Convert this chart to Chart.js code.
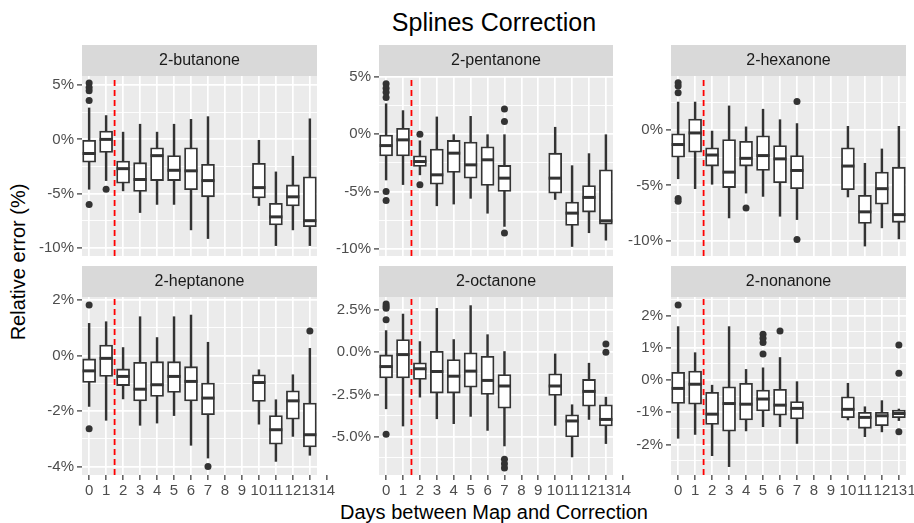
<!DOCTYPE html>
<html>
<head>
<meta charset="utf-8">
<script src="https://cdn.jsdelivr.net/npm/chart.js@4.4.0/dist/chart.umd.min.js"></script>
<style>
  body { margin: 0; width: 914px; height: 523px; background: #fff; position: relative; overflow: hidden;
         font-family: "Liberation Sans", Arial, sans-serif; }
  canvas { position: absolute; }
  .txt { position: absolute; white-space: nowrap; color: #000; }
  #title { left: 494px; top: 10px; font-size: 25px; line-height: 25px; transform: translateX(-50%); }
  #xtitle { left: 494px; top: 502px; font-size: 20px; line-height: 20px; transform: translateX(-50%); }
  #ytitle { left: 18px; top: 262px; font-size: 20px; line-height: 20px; transform: translate(-50%, -50%) rotate(-90deg); }
</style>
</head>
<body>
<div class="txt" id="title">Splines Correction</div>
<div class="txt" id="xtitle">Days between Map and Correction</div>
<div class="txt" id="ytitle">Relative error (%)</div>
<script>
// dias com medições (8 e 9 sem dados)
const days = [0, 1, 2, 3, 4, 5, 6, 7, 10, 11, 12, 13];
const dayTicks = [0, 1, 2, 3, 4, 5, 6, 7, 8, 9, 10, 11, 12, 13, 14];
const cutDay = 1.5;

// 2-butanone
const butanoneLow = [-4.6, -3.8, -4.75, -6.75, -6.0, -6.0, -8.35, -9.15, -6.1, -9.8, -8.35, -9.8];
const butanoneQ1  = [-2.1, -1.2, -4.05, -4.8, -3.8, -3.8, -4.65, -5.3, -5.4, -7.9, -6.15, -8.05];
const butanoneMed = [-1.3, 0.0, -2.7, -3.7, -1.5, -2.85, -2.9, -3.8, -4.45, -7.15, -5.3, -7.5];
const butanoneQ3  = [0.0, 0.77, -2.0, -2.15, -0.77, -1.5, -0.77, -2.3, -2.2, -5.9, -4.2, -3.45];
const butanoneHigh = [2.9, 2.2, 0.67, 1.4, 0.67, 1.4, 1.85, 2.1, 0.0, -3.0, -1.55, 1.9];
const butanoneOut = [[0, 5.2], [0, 4.8], [0, 4.5], [0, 3.6], [0, -6.0], [1, -4.6]];

// 2-pentanone
const pentanoneLow = [-4.0, -4.4, -3.55, -6.25, -6.1, -5.6, -6.9, -8.05, -5.7, -9.8, -8.6, -9.25];
const pentanoneQ1  = [-1.9, -1.9, -2.82, -4.36, -3.34, -3.84, -4.48, -5.0, -5.15, -7.97, -6.8, -7.85];
const pentanoneMed = [-1.0, -0.5, -2.39, -3.55, -1.66, -2.68, -2.24, -3.84, -3.84, -6.89, -5.52, -7.56];
const pentanoneQ3  = [0.0, 0.5, -1.89, -1.31, -0.55, -0.7, -1.1, -2.73, -1.66, -5.93, -4.48, -3.11];
const pentanoneHigh = [2.65, 2.05, -0.58, 1.5, -0.05, 1.55, -0.05, -0.05, 0.6, -2.75, -1.7, -0.05];
const pentanoneOut = [[0, 4.4], [0, 4.0], [0, 3.65], [0, 3.2], [0, -5.0], [0, -5.8],
                      [2, 0.0], [2, -4.42], [7, 2.2], [7, 1.1], [7, -8.63]];

// 2-hexanone
const hexanoneLow = [-4.4, -5.3, -4.9, -7.95, -5.7, -6.0, -7.8, -8.1, -6.05, -10.5, -8.85, -9.85];
const hexanoneQ1  = [-2.45, -2.0, -3.25, -5.2, -3.25, -3.65, -4.75, -5.3, -5.4, -8.45, -6.7, -8.35];
const hexanoneMed = [-1.3, -0.25, -2.25, -3.8, -2.55, -2.3, -2.6, -3.65, -3.25, -7.4, -5.3, -7.65];
const hexanoneQ3  = [-0.33, 1.0, -1.6, -0.85, -1.0, -0.5, -1.4, -2.3, -1.6, -5.9, -3.8, -3.35];
const hexanoneHigh = [2.55, 2.55, 0.0, 2.2, 0.3, 1.9, 0.95, 0.6, 0.35, -3.0, -1.7, 0.35];
const hexanoneOut = [[0, 4.3], [0, 4.0], [0, 3.4], [0, -6.2], [0, -6.45], [4, -7.05], [7, 2.6], [7, -9.9]];

// 2-heptanone
const heptanoneLow = [-1.83, -2.33, -1.56, -2.51, -2.43, -2.16, -3.23, -3.69, -2.47, -3.81, -2.91, -3.59];
const heptanoneQ1  = [-0.97, -0.75, -1.08, -1.63, -1.47, -1.33, -1.63, -2.13, -1.65, -3.19, -2.29, -3.29];
const heptanoneMed = [-0.55, -0.1, -0.75, -1.21, -1.05, -0.75, -0.93, -1.53, -0.97, -2.67, -1.63, -2.85];
const heptanoneQ3  = [-0.12, 0.38, -0.48, -0.24, -0.22, -0.22, -0.4, -0.99, -0.69, -2.16, -1.27, -1.71];
const heptanoneHigh = [1.16, 1.22, 0.29, 1.4, 0.65, 1.4, 1.46, 0.48, -0.51, -1.59, -0.69, 0.26];
const heptanoneOut = [[0, 1.82], [0, -2.63], [7, -3.99], [13, 0.89]];

// 2-octanone
const octanoneLow = [-3.35, -4.37, -2.66, -3.94, -4.23, -3.8, -4.63, -5.55, -4.33, -6.2, -3.98, -5.41];
const octanoneQ1  = [-1.52, -1.52, -1.61, -2.42, -2.42, -2.07, -2.5, -3.31, -2.56, -5.02, -3.19, -4.37];
const octanoneMed = [-0.85, -0.14, -0.98, -1.14, -1.42, -1.12, -1.67, -2.0, -2.0, -4.07, -2.32, -3.98];
const octanoneQ3  = [-0.16, 0.75, -0.63, 0.06, -0.43, -0.04, -0.24, -1.32, -1.28, -3.7, -1.61, -3.11];
const octanoneHigh = [1.28, 2.26, 0.63, 2.6, 0.75, 2.76, 1.04, 0.04, -0.1, -3.11, -0.65, -2.66];
const octanoneOut = [[0, 2.85], [0, 2.72], [0, 2.6], [0, 1.93], [0, -4.86],
                     [7, -6.34], [7, -6.6], [7, -6.85], [13, 0.49], [13, 0.0]];

// 2-nonanone
const nonanoneLow = [-1.81, -1.69, -2.35, -2.69, -1.58, -1.45, -1.45, -1.97, -1.24, -1.76, -1.61, -1.26];
const nonanoneQ1  = [-0.73, -0.75, -1.38, -1.59, -1.24, -0.96, -1.09, -1.21, -1.17, -1.5, -1.42, -1.17];
const nonanoneMed = [-0.26, -0.13, -1.06, -0.73, -0.75, -0.59, -0.78, -0.88, -0.91, -1.16, -1.11, -1.04];
const nonanoneQ3  = [0.24, 0.28, -0.38, -0.21, -0.1, -0.31, -0.29, -0.67, -0.52, -1.0, -1.0, -0.93];
const nonanoneHigh = [1.66, 0.85, -0.16, 1.66, 0.33, 0.38, 0.7, -0.05, -0.1, -0.83, -0.64, -0.9];
const nonanoneOut = [[0, 2.33], [5, 1.42], [5, 1.3], [5, 1.17], [5, 0.81], [6, 1.52],
                     [13, 1.09], [13, 0.21], [13, -1.61]];

// marcas do eixo y de cada painel
const ticksPct5 = [-10, -5, 0, 5];
const minorPct5 = [-7.5, -2.5, 2.5];
const ticksHexanone = [-10, -5, 0];
const ticksHeptanone = [-4, -2, 0, 2];
const minorHeptanone = [-3, -1, 1];
const ticksOctanone = [-5, -2.5, 0, 2.5];
const minorOctanone = [-6.25, -3.75, -1.25, 1.25];
const ticksNonanone = [-2, -1, 0, 1, 2];
const minorNonanone = [-2.5, -1.5, -0.5, 0.5, 1.5, 2.5];

// layout da grade de painéis
const AXIS_W = 80, PAD_R = 22, STRIP_H = 31;
const colLeft = [82, 379, 671];
const colWidth = [235, 234, 235];
const rowTop = [45, 266];
const rowPlotH = [180, 178];

const FONT = '"Liberation Sans", Arial, sans-serif';
const DARK = '#333333';
Chart.defaults.font.family = FONT;

const stripPlugin = {
    id: 'strip',
    beforeDraw(chart, args, opts) {
        const {ctx, chartArea: a} = chart;
        ctx.save();
        ctx.fillStyle = '#EBEBEB';
        ctx.fillRect(a.left, a.top, a.right - a.left, a.bottom - a.top);
        ctx.fillStyle = '#D9D9D9';
        ctx.fillRect(a.left, a.top - STRIP_H, a.right - a.left, STRIP_H);
        ctx.fillStyle = '#1A1A1A';
        ctx.font = '16px ' + FONT;
        ctx.textAlign = 'center';
        ctx.textBaseline = 'middle';
        ctx.fillText(opts.label, (a.left + a.right) / 2, a.top - STRIP_H / 2 + 0.5);
        ctx.restore();
    },
    afterDraw(chart, args, opts) {
        // marcas do eixo x que ficam fora do painel (ex.: 14)
        const {ctx, chartArea: a} = chart;
        const xs = chart.scales.x;
        (opts.extraTicks || []).forEach(v => {
            const px = xs.getPixelForValue(v);
            ctx.save();
            ctx.strokeStyle = DARK;
            ctx.lineWidth = 1.2;
            ctx.beginPath();
            ctx.moveTo(px, a.bottom);
            ctx.lineTo(px, a.bottom + 5);
            ctx.stroke();
            ctx.fillStyle = '#4D4D4D';
            ctx.font = '15px ' + FONT;
            ctx.textAlign = 'center';
            ctx.textBaseline = 'middle';
            ctx.fillText(String(v), px, a.bottom + 5 + 2 + 9);
            ctx.restore();
        });
    }
};

function criarPainel(row, col, name, low, q1, med, q3, high, outliers, yMin, yMax, yMajor, yMinor, decimals) {
    const bottomRow = row === 1;
    const extraH = bottomRow ? 40 : 12;
    const canvas = document.createElement('canvas');
    canvas.width = AXIS_W + colWidth[col] + PAD_R;
    canvas.height = STRIP_H + rowPlotH[row] + extraH;
    canvas.style.left = (colLeft[col] - AXIS_W) + 'px';
    canvas.style.top = rowTop[row] + 'px';
    document.body.appendChild(canvas);

    const xMin = -0.42, xMax = 13.42;
    const isMajor = c => c.tick && yMajor.includes(c.tick.value);

    new Chart(canvas, {
        type: 'scatter',
        data: {
            datasets: [
                {
                    type: 'line',
                    data: [{x: cutDay, y: yMin}, {x: cutDay, y: yMax}],
                    borderColor: '#FF0000', borderWidth: 1.8, borderDash: [6, 4],
                    pointRadius: 0, order: 0
                },
                {
                    type: 'scatter',
                    data: outliers.map(o => ({x: o[0], y: o[1]})),
                    pointRadius: 3.5, pointBackgroundColor: DARK, backgroundColor: DARK,
                    pointBorderWidth: 0, order: 1
                },
                {
                    type: 'scatter',
                    data: days.map((d, i) => ({x: d, y: med[i]})),
                    pointStyle: 'line', pointRadius: 6.5, pointBorderWidth: 3,
                    pointBorderColor: DARK, borderColor: DARK, order: 2
                },
                {
                    type: 'bar',
                    data: days.map((d, i) => ({x: d, y: [q1[i], q3[i]]})),
                    barThickness: 13, backgroundColor: '#FFFFFF', borderColor: DARK,
                    borderWidth: 1.8, borderSkipped: false, grouped: false, order: 3
                },
                {
                    type: 'bar',
                    data: days.map((d, i) => ({x: d, y: [low[i], high[i]]})),
                    barThickness: 1.8, backgroundColor: DARK, borderWidth: 0,
                    grouped: false, order: 4
                }
            ]
        },
        options: {
            responsive: false,
            animation: false,
            devicePixelRatio: 1,
            events: [],
            layout: { padding: { top: STRIP_H, right: PAD_R, left: 0, bottom: bottomRow ? 0 : 12 } },
            plugins: {
                legend: { display: false },
                tooltip: { enabled: false },
                strip: { label: name, extraTicks: bottomRow ? dayTicks.filter(v => v > xMax) : [] }
            },
            scales: {
                x: {
                    type: 'linear', min: xMin, max: xMax, offset: false,
                    afterFit: s => { s.height = bottomRow ? 40 : 0; },
                    afterBuildTicks: s => { s.ticks = dayTicks.filter(v => v >= xMin && v <= xMax).map(v => ({value: v})); },
                    ticks: {
                        display: bottomRow, autoSkip: false, maxRotation: 0, minRotation: 0,
                        padding: 2, color: '#4D4D4D', font: { size: 15 },
                        callback: v => String(v)
                    },
                    grid: {
                        color: '#FFFFFF', lineWidth: 1.7, offset: false,
                        drawTicks: bottomRow, tickLength: 5, tickColor: DARK, tickWidth: 1.2
                    },
                    border: { display: false }
                },
                y: {
                    type: 'linear', min: yMin, max: yMax,
                    afterFit: s => { s.width = AXIS_W; },
                    afterBuildTicks: s => {
                        s.ticks = yMajor.concat(yMinor)
                            .filter(v => v >= yMin && v <= yMax)
                            .sort((a, b) => a - b)
                            .map(v => ({value: v}));
                    },
                    ticks: {
                        autoSkip: false, padding: 3, color: '#4D4D4D', font: { size: 15 },
                        callback: v => yMajor.includes(v) ? v.toFixed(decimals) + '%' : ''
                    },
                    grid: {
                        color: '#FFFFFF',
                        lineWidth: c => isMajor(c) ? 1.8 : 0.9,
                        tickLength: 5,
                        tickColor: c => isMajor(c) ? DARK : 'rgba(0,0,0,0)',
                        tickWidth: 1.2
                    },
                    border: { display: false }
                }
            }
        },
        plugins: [stripPlugin]
    });
}

criarPainel(0, 0, '2-butanone', butanoneLow, butanoneQ1, butanoneMed, butanoneQ3, butanoneHigh, butanoneOut,
            -10.76, 5.85, ticksPct5, minorPct5, 0);
criarPainel(0, 1, '2-pentanone', pentanoneLow, pentanoneQ1, pentanoneMed, pentanoneQ3, pentanoneHigh, pentanoneOut,
            -10.63, 5.07, ticksPct5, minorPct5, 0);
criarPainel(0, 2, '2-hexanone', hexanoneLow, hexanoneQ1, hexanoneMed, hexanoneQ3, hexanoneHigh, hexanoneOut,
            -11.4, 4.91, ticksHexanone, minorPct5, 0);
criarPainel(1, 0, '2-heptanone', heptanoneLow, heptanoneQ1, heptanoneMed, heptanoneQ3, heptanoneHigh, heptanoneOut,
            -4.3, 2.11, ticksHeptanone, minorHeptanone, 0);
criarPainel(1, 1, '2-octanone', octanoneLow, octanoneQ1, octanoneMed, octanoneQ3, octanoneHigh, octanoneOut,
            -7.27, 3.27, ticksOctanone, minorOctanone, 1);
criarPainel(1, 2, '2-nonanone', nonanoneLow, nonanoneQ1, nonanoneMed, nonanoneQ3, nonanoneHigh, nonanoneOut,
            -2.95, 2.58, ticksNonanone, minorNonanone, 0);
</script>
</body>
</html>
